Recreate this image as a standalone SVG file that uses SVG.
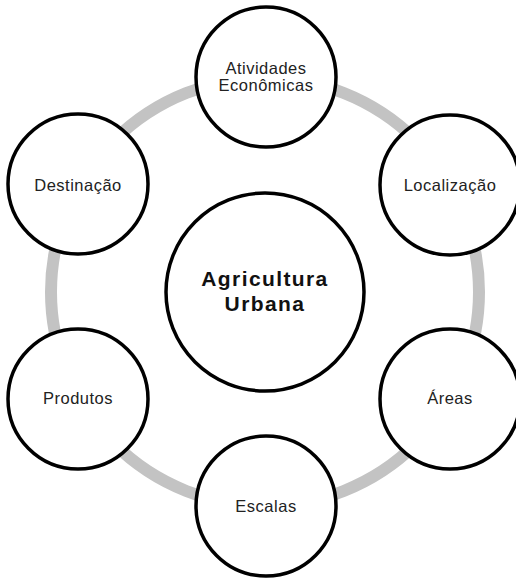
<svg xmlns="http://www.w3.org/2000/svg" width="516" height="579" viewBox="0 0 516 579">
<style>
.node{fill:#fff;stroke:#000;stroke-width:3.5}
.lbl{font-family:"Liberation Sans",Arial,sans-serif;font-size:16.5px;letter-spacing:0.5px;fill:#222;text-anchor:middle}
.ctr{font-family:"Liberation Sans",Arial,sans-serif;font-size:21px;font-weight:bold;letter-spacing:1.4px;fill:#111;text-anchor:middle}
</style>
<rect width="516" height="579" fill="#fff"/>
<g id="connectors">
<circle cx="265" cy="292" r="214" fill="none" stroke="#c3c3c3" stroke-width="12"/>
</g>
<g id="center">
<circle class="node" cx="265" cy="292" r="99"/>
<text class="ctr" x="265" y="286">Agricultura</text>
<text class="ctr" x="265" y="311">Urbana</text>
</g>
<g id="atividades">
<circle class="node" cx="266" cy="77" r="70"/>
<text class="lbl" x="266" y="74">Atividades</text>
<text class="lbl" x="266" y="91">Econômicas</text>
</g>
<g id="localizacao">
<circle class="node" cx="450" cy="185" r="70"/>
<text class="lbl" x="450" y="191">Localização</text>
</g>
<g id="areas">
<circle class="node" cx="450" cy="399" r="70"/>
<text class="lbl" x="450" y="404">Áreas</text>
</g>
<g id="escalas">
<circle class="node" cx="266" cy="506" r="70"/>
<text class="lbl" x="266" y="512">Escalas</text>
</g>
<g id="produtos">
<circle class="node" cx="78" cy="399" r="70"/>
<text class="lbl" x="78" y="404">Produtos</text>
</g>
<g id="destinacao">
<circle class="node" cx="78" cy="184" r="70"/>
<text class="lbl" x="78" y="191">Destinação</text>
</g>
</svg>
